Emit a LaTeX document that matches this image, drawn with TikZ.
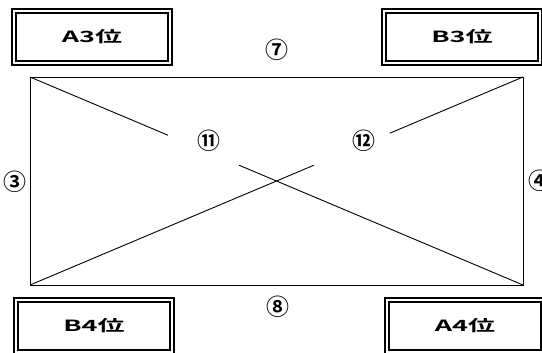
\documentclass[tikz,border=0pt]{standalone}
\usepackage{fontspec}
\setmainfont{Noto Sans CJK JP}[BoldFont={Noto Sans CJK JP Bold}]
\usepackage{graphicx}
\usetikzlibrary{calc}
\tikzset{
  posbox/.style={draw, line width=2.4bp, double, double distance=1.8bp,
    minimum width=156bp, minimum height=52bp, inner sep=0pt,
    font=\fontsize{15.5}{18}\selectfont\bfseries},
  marknum/.style={font=\fontsize{23}{26}\selectfont\bfseries, inner sep=0pt},
  frame/.style={line width=0.9bp},
}
\newcommand{\wide}[1]{\scalebox{1.75}[1]{#1}}

\begin{document}
\begin{tikzpicture}[x=1bp,y=-1bp]
        \useasboundingbox (0,0) rectangle (542,352);
        \clip (0,0) rectangle (542,352);
        % frame and diagonals
        \coordinate (tl) at (30,77);
        \coordinate (tr) at (523,77);
        \coordinate (br) at (523,285);
        \coordinate (bl) at (30,285);
        \draw[frame] (tl) -- (tr) -- (br) -- (bl) -- cycle;
        \draw[frame] (tl) -- ($(tl)!0.28!(br)$);
        \draw[frame] ($(tl)!0.424!(br)$) -- (br);
        \draw[frame] (bl) -- ($(bl)!0.576!(tr)$);
        \draw[frame] ($(bl)!0.73!(tr)$) -- (tr);

        % position boxes
        \node[posbox] (a3) at (92,37) {\wide{A3位}};
        \node[posbox] (b3) at (462,37) {\wide{B3位}};
        \node[posbox] (b4) at (94,326) {\wide{B4位}};
        \node[posbox] (a4) at (465,326) {\wide{A4位}};

        % numbers
        \node[marknum] (n7) at (277,50) {⑦};
        \node[marknum] (n8) at (278,307) {⑧};
        \node[marknum] (n3) at (15,182) {③};
        \node[marknum] (n4) at (540,181) {④};
        \node[marknum] (n11) at (209,141) {⑪};
        \node[marknum] (n12) at (364,141) {⑫};
\end{tikzpicture}
\end{document}
